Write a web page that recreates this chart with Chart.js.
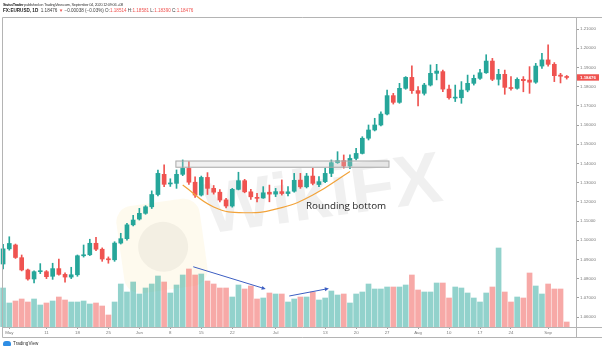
<!DOCTYPE html>
<html>
<head>
<meta charset="utf-8">
<script src="https://cdn.jsdelivr.net/npm/chart.js@4.4.0/dist/chart.umd.min.js"></script>
<style>
  body { margin: 0; background: #fff; }
  #wrap { position: relative; width: 602px; height: 351px; overflow: hidden; font-family: "Liberation Sans", Arial, sans-serif; }
  #chart { position: absolute; left: 0; top: 0; }
  .hdr { position: absolute; left: 3px; white-space: nowrap; color: #404040; line-height: 5px; }
  .hdr b { color: #222; }
  .red { color: #ef5350; }
  #wm { position: absolute; left: 204px; top: 168px; font: bold 72px "Liberation Sans", Arial, sans-serif; color: rgba(0,0,0,0.06); transform: rotate(-8deg); transform-origin: 0 50%; white-space: nowrap; }
  #logo { position: absolute; left: 120px; top: 202px; width: 84px; height: 88px; border-radius: 16px; background: rgba(252,236,195,0.28); transform: rotate(-8deg); }
  #logo div { position: absolute; left: 18px; top: 20px; width: 50px; height: 50px; border-radius: 50%; background: rgba(0,0,0,0.045); }
  #note { position: absolute; left: 306px; top: 201px; font: 9.8px/9.8px "Open Sans", sans-serif; color: #262626; white-space: nowrap; }
  #tv { position: absolute; left: 3px; top: 341px; font-size: 4.6px; line-height: 6px; color: #333; white-space: nowrap; }
  #tv span { display: inline-block; width: 8px; height: 5px; background: #2f8de4; border-radius: 3px 3px 1px 1px; vertical-align: middle; margin-right: 2px; }
</style>
</head>
<body>
<div id="wrap">
  <div id="logo"><div></div></div>
  <div id="wm">WikiFX</div>
  <canvas id="chart" width="602" height="351"></canvas>
  <div class="hdr" style="top:2px; font-size:4px; letter-spacing:-0.3px"><b>SwissTrader</b> published on TradingView.com, September 04, 2020 12:09:06 +08</div>
  <div class="hdr" style="top:8px; font-size:4.6px"><b>FX:EURUSD, 1D</b> &nbsp;1.18476 <span class="red">▼</span> −0.00038 (−0.03%) O:<span class="red">1.18514</span> H:<span class="red">1.18581</span> L:<span class="red">1.18390</span> C:<span class="red">1.18476</span></div>
  <div id="note">Rounding bottom</div>
  <div id="tv"><span></span>TradingView</div>
</div>
<script>
// EURUSD daily, 30 Apr - 4 Sep 2020
const DATES = [
  "2020-04-30",
  "2020-05-01", "2020-05-04", "2020-05-05", "2020-05-06", "2020-05-07", "2020-05-08",
  "2020-05-11", "2020-05-12", "2020-05-13", "2020-05-14", "2020-05-15",
  "2020-05-18", "2020-05-19", "2020-05-20", "2020-05-21", "2020-05-22",
  "2020-05-25", "2020-05-26", "2020-05-27", "2020-05-28", "2020-05-29",
  "2020-06-01", "2020-06-02", "2020-06-03", "2020-06-04", "2020-06-05",
  "2020-06-08", "2020-06-09", "2020-06-10", "2020-06-11", "2020-06-12",
  "2020-06-15", "2020-06-16", "2020-06-17", "2020-06-18", "2020-06-19",
  "2020-06-22", "2020-06-23", "2020-06-24", "2020-06-25", "2020-06-26",
  "2020-06-29", "2020-06-30", "2020-07-01", "2020-07-02", "2020-07-03",
  "2020-07-06", "2020-07-07", "2020-07-08", "2020-07-09", "2020-07-10",
  "2020-07-13", "2020-07-14", "2020-07-15", "2020-07-16", "2020-07-17",
  "2020-07-20", "2020-07-21", "2020-07-22", "2020-07-23", "2020-07-24",
  "2020-07-27", "2020-07-28", "2020-07-29", "2020-07-30", "2020-07-31",
  "2020-08-03", "2020-08-04", "2020-08-05", "2020-08-06", "2020-08-07",
  "2020-08-10", "2020-08-11", "2020-08-12", "2020-08-13", "2020-08-14",
  "2020-08-17", "2020-08-18", "2020-08-19", "2020-08-20", "2020-08-21",
  "2020-08-24", "2020-08-25", "2020-08-26", "2020-08-27", "2020-08-28",
  "2020-08-31", "2020-09-01", "2020-09-02", "2020-09-03", "2020-09-04"
];

const OPEN = [
  1.0876, 1.0955, 1.0975, 1.0909, 1.0845, 1.0798, 1.0836, 1.0836, 1.0812, 1.0852,
  1.0822, 1.0808, 1.0820, 1.0919, 1.0924, 1.0984, 1.0953, 1.0902, 1.0898, 1.0985,
  1.1008, 1.1080, 1.1110, 1.1140, 1.1174, 1.1238, 1.1343, 1.1293, 1.1296, 1.1343,
  1.1374, 1.1302, 1.1235, 1.1327, 1.1270, 1.1250, 1.1210, 1.1178, 1.1265, 1.1310,
  1.1252, 1.1223, 1.1220, 1.1250, 1.1240, 1.1253, 1.1243, 1.1255, 1.1313, 1.1278,
  1.1334, 1.1290, 1.1305, 1.1348, 1.1404, 1.1414, 1.1386, 1.1426, 1.1452, 1.1531,
  1.1574, 1.1600, 1.1657, 1.1753, 1.1718, 1.1791, 1.1848, 1.1779, 1.1765, 1.1808,
  1.1869, 1.1878, 1.1787, 1.1740, 1.1742, 1.1782, 1.1817, 1.1843, 1.1872, 1.1933,
  1.1838, 1.1864, 1.1795, 1.1791, 1.1838, 1.1834, 1.1823, 1.1907, 1.1939, 1.1916,
  1.1860, 1.18514
];
const HIGH = [
  1.0978, 1.1018, 1.0980, 1.0923, 1.0850, 1.0840, 1.0878, 1.0842, 1.0880, 1.0902,
  1.0830, 1.0859, 1.0923, 1.0975, 1.1005, 1.1015, 1.0960, 1.0913, 1.0992, 1.1036,
  1.1088, 1.1130, 1.1166, 1.1180, 1.1257, 1.1365, 1.1392, 1.1320, 1.1366, 1.1418,
  1.1409, 1.1330, 1.1334, 1.1352, 1.1285, 1.1263, 1.1218, 1.1270, 1.1354, 1.1317,
  1.1265, 1.1244, 1.1279, 1.1287, 1.1270, 1.1314, 1.1279, 1.1348, 1.1348, 1.1348,
  1.1375, 1.1331, 1.1375, 1.1418, 1.1461, 1.1444, 1.1444, 1.1479, 1.1539, 1.1600,
  1.1635, 1.1669, 1.1782, 1.1765, 1.1817, 1.1852, 1.1908, 1.1800, 1.1817, 1.1913,
  1.1916, 1.1886, 1.1808, 1.1808, 1.1826, 1.1860, 1.1860, 1.1890, 1.1966, 1.1947,
  1.1890, 1.1886, 1.1852, 1.1846, 1.1852, 1.1904, 1.1921, 1.1973, 1.2017, 1.1925,
  1.1869, 1.18581
];
const LOW = [
  1.0850, 1.0948, 1.0905, 1.0840, 1.0792, 1.0777, 1.0826, 1.0800, 1.0796, 1.0818,
  1.0782, 1.0800, 1.0812, 1.0912, 1.0920, 1.0946, 1.0890, 1.0880, 1.0890, 1.0980,
  1.1000, 1.1075, 1.1105, 1.1135, 1.1165, 1.1230, 1.1279, 1.1280, 1.1270, 1.1336,
  1.1290, 1.1223, 1.1230, 1.1238, 1.1240, 1.1200, 1.1168, 1.1172, 1.1262, 1.1247,
  1.1213, 1.1200, 1.1218, 1.1200, 1.1227, 1.1235, 1.1230, 1.1250, 1.1270, 1.1272,
  1.1288, 1.1279, 1.1300, 1.1331, 1.1400, 1.1375, 1.1372, 1.1418, 1.1449, 1.1522,
  1.1569, 1.1595, 1.1652, 1.1709, 1.1713, 1.1786, 1.1765, 1.1699, 1.1756, 1.1803,
  1.1835, 1.1773, 1.1735, 1.1722, 1.1713, 1.1773, 1.1808, 1.1838, 1.1869, 1.1831,
  1.1808, 1.1760, 1.1782, 1.1786, 1.1773, 1.1765, 1.1817, 1.1895, 1.1907, 1.1826,
  1.1819, 1.18390
];
const CLOSE = [
  1.0955, 1.0983, 1.0910, 1.0845, 1.0798, 1.0836, 1.0839, 1.0810, 1.0852, 1.0822,
  1.0808, 1.0820, 1.0919, 1.0924, 1.0984, 1.0953, 1.0902, 1.0898, 1.0985, 1.1008,
  1.1080, 1.1105, 1.1140, 1.1174, 1.1238, 1.1348, 1.1291, 1.1297, 1.1343, 1.1374,
  1.1302, 1.1235, 1.1327, 1.1270, 1.1250, 1.1209, 1.1178, 1.1265, 1.1310, 1.1252,
  1.1226, 1.1218, 1.1247, 1.1240, 1.1253, 1.1243, 1.1252, 1.1312, 1.1278, 1.1334,
  1.1296, 1.1305, 1.1348, 1.1404, 1.1414, 1.1386, 1.1426, 1.1452, 1.1531, 1.1574,
  1.1600, 1.1657, 1.1753, 1.1718, 1.1791, 1.1848, 1.1779, 1.1765, 1.1808, 1.1869,
  1.1881, 1.1787, 1.1742, 1.1745, 1.1782, 1.1817, 1.1843, 1.1872, 1.1933, 1.1838,
  1.1864, 1.1796, 1.1790, 1.1838, 1.1831, 1.1823, 1.1907, 1.1939, 1.1916, 1.1857,
  1.1854, 1.18476
];
// tick volume, thousands
const VOLUME = [
  156, 96, 104, 112, 100, 112, 88, 96, 104, 120,
  108, 100, 100, 104, 92, 96, 84, 48, 100, 172,
  140, 180, 132, 156, 172, 204, 180, 136, 168, 208,
  232, 208, 212, 184, 172, 156, 156, 120, 168, 152,
  164, 112, 116, 136, 132, 132, 100, 112, 120, 120,
  140, 108, 116, 144, 128, 132, 96, 132, 140, 172,
  152, 152, 160, 160, 160, 168, 208, 148, 140, 140,
  176, 176, 116, 160, 156, 136, 116, 100, 136, 160,
  316, 140, 100, 120, 116, 216, 164, 132, 172, 152,
  152, 20
];

const TICK_DATES = ["2020-05-01", "2020-05-11", "2020-05-18", "2020-05-25", "2020-06-01",
  "2020-06-08", "2020-06-15", "2020-06-22", "2020-07-01", "2020-07-13", "2020-07-20",
  "2020-07-27", "2020-08-03", "2020-08-10", "2020-08-17", "2020-08-24", "2020-09-01"];
const TICK_TEXT = ["May", "11", "18", "25", "Jun", "8", "15", "22", "Jul", "13", "20",
  "27", "Aug", "10", "17", "24", "Sep"];
const PRICE_TICKS = [1.06, 1.07, 1.08, 1.09, 1.10, 1.11, 1.12, 1.13, 1.14, 1.15,
  1.16, 1.17, 1.18, 1.19, 1.20, 1.21];

// annotations (bar index / price / volume units)
const ZONE_FROM = 27.9, ZONE_TO = 62.3;
const ZONE_LOW = 1.1380, ZONE_HIGH = 1.14125;
const CURVE_AT = [29, 34, 39, 45, 50, 56];
const CURVE_PRICE = [1.1288, 1.1173, 1.1143, 1.1170, 1.1235, 1.1358];
const ARROWS = [
  { from: [30.7, 241], to: [42.4, 152] },
  { from: [46.2, 124], to: [52.6, 154] }
];

const UP = "#26a69a", DOWN = "#ef5350";
const UP_VOL = "rgba(38,166,154,0.5)", DOWN_VOL = "rgba(239,83,80,0.5)";

const isUp = CLOSE.map((c, i) => c >= OPEN[i]);
const candleColors = isUp.map((u) => (u ? UP : DOWN));
const volColors = isUp.map((u) => (u ? UP_VOL : DOWN_VOL));

const curve = DATES.map(() => null);
CURVE_AT.forEach((idx, k) => { curve[idx] = CURVE_PRICE[k]; });

const overlay = {
  id: "overlay",
  afterDatasetsDraw(chart) {
    const { ctx, scales } = chart;
    const { x, y, vol } = scales;
    ctx.save();

    // resistance zone
    const x0 = x.getPixelForValue(ZONE_FROM), x1 = x.getPixelForValue(ZONE_TO);
    const y0 = y.getPixelForValue(ZONE_HIGH), y1 = y.getPixelForValue(ZONE_LOW);
    ctx.fillStyle = "rgba(210,210,210,0.3)";
    ctx.fillRect(x0, y0, x1 - x0, y1 - y0);
    ctx.strokeStyle = "#a8a8a8";
    ctx.lineWidth = 1;
    ctx.strokeRect(x0, y0, x1 - x0, y1 - y0);

    // volume arrows
    ctx.strokeStyle = "#3c5ec2";
    ctx.fillStyle = "#3c5ec2";
    ctx.lineWidth = 1;
    ARROWS.forEach((a) => {
      const ax = x.getPixelForValue(a.from[0]), ay = vol.getPixelForValue(a.from[1]);
      const bx = x.getPixelForValue(a.to[0]), by = vol.getPixelForValue(a.to[1]);
      const ang = Math.atan2(by - ay, bx - ax);
      ctx.beginPath();
      ctx.moveTo(ax, ay);
      ctx.lineTo(bx - 3 * Math.cos(ang), by - 3 * Math.sin(ang));
      ctx.stroke();
      ctx.beginPath();
      ctx.moveTo(bx, by);
      ctx.lineTo(bx - 4.5 * Math.cos(ang - 0.45), by - 4.5 * Math.sin(ang - 0.45));
      ctx.lineTo(bx - 4.5 * Math.cos(ang + 0.45), by - 4.5 * Math.sin(ang + 0.45));
      ctx.closePath();
      ctx.fill();
    });
    ctx.restore();
  },
  afterDraw(chart) {
    const { ctx, chartArea: a, scales } = chart;
    ctx.save();
    ctx.strokeStyle = "#b4b4b4";
    ctx.lineWidth = 1;
    const L = 2.5, T = a.top + 0.5, R = a.right + 0.5, B = a.bottom + 0.5, F = a.bottom + 10.5;
    ctx.beginPath();
    ctx.moveTo(L, T); ctx.lineTo(602, T);
    ctx.moveTo(L, T); ctx.lineTo(L, F);
    ctx.moveTo(L, B); ctx.lineTo(602, B);
    ctx.moveTo(L, F); ctx.lineTo(602, F);
    ctx.moveTo(R, T); ctx.lineTo(R, F);
    ctx.stroke();

    // last price marker
    const last = CLOSE[CLOSE.length - 1];
    const py = scales.y.getPixelForValue(last);
    ctx.fillStyle = DOWN;
    ctx.fillRect(a.right + 1, py - 3.2, 22, 6.4);
    ctx.fillStyle = "#fff";
    ctx.font = "bold 4.4px 'Liberation Sans', Arial, sans-serif";
    ctx.textBaseline = "middle";
    ctx.fillText(last.toFixed(5), a.right + 4, py + 0.2);
    ctx.restore();
  }
};

new Chart(document.getElementById("chart"), {
  type: "bar",
  data: {
    labels: [...DATES, ""],
    datasets: [
      {
        type: "line",
        data: curve,
        yAxisID: "y",
        borderColor: "#f2a33a",
        borderWidth: 1.2,
        pointRadius: 0,
        tension: 0.45,
        spanGaps: true,
        order: 0
      },
      {
        data: OPEN.map((o, i) => [o, CLOSE[i]]),
        yAxisID: "y",
        backgroundColor: candleColors,
        barThickness: 4,
        minBarLength: 1,
        grouped: false,
        order: 1
      },
      {
        data: LOW.map((l, i) => [l, HIGH[i]]),
        yAxisID: "y",
        backgroundColor: candleColors,
        barThickness: 1,
        grouped: false,
        order: 2
      },
      {
        data: VOLUME,
        yAxisID: "vol",
        backgroundColor: volColors,
        barThickness: 5,
        grouped: false,
        order: 3
      }
    ]
  },
  options: {
    responsive: false,
    animation: false,
    layout: { padding: { top: 17, left: 0, right: 0, bottom: 14 } },
    plugins: { legend: { display: false }, tooltip: { enabled: false } },
    scales: {
      x: {
        offset: true,
        grid: { drawOnChartArea: false, offset: false, tickLength: 2, color: "#a0a0a0" },
        border: { display: false },
        ticks: {
          autoSkip: false,
          maxRotation: 0,
          padding: 1,
          color: "#7a7a7a",
          font: { size: 4.4, family: "'Liberation Sans', Arial, sans-serif" },
          callback: (v) => TICK_TEXT[TICK_DATES.indexOf(DATES[v])] || ""
        },
        afterBuildTicks: (s) => {
          s.ticks = TICK_DATES.map((d) => ({ value: DATES.indexOf(d) }));
        },
        afterFit: (s) => { s.height = 10; }
      },
      y: {
        position: "right",
        min: 1.054792,
        max: 1.21625,
        grid: { drawOnChartArea: false, tickLength: 3, color: "#a0a0a0" },
        border: { display: false },
        ticks: {
          padding: 1,
          color: "#7a7a7a",
          font: { size: 4.4, family: "'Liberation Sans', Arial, sans-serif" },
          callback: (v) => v.toFixed(5)
        },
        afterBuildTicks: (s) => {
          s.ticks = PRICE_TICKS.map((v) => ({ value: v }));
        },
        afterFit: (s) => { s.width = 26; }
      },
      vol: { display: false, min: 0, max: 1240 }
    }
  },
  plugins: [overlay]
});
</script>
</body>
</html>
